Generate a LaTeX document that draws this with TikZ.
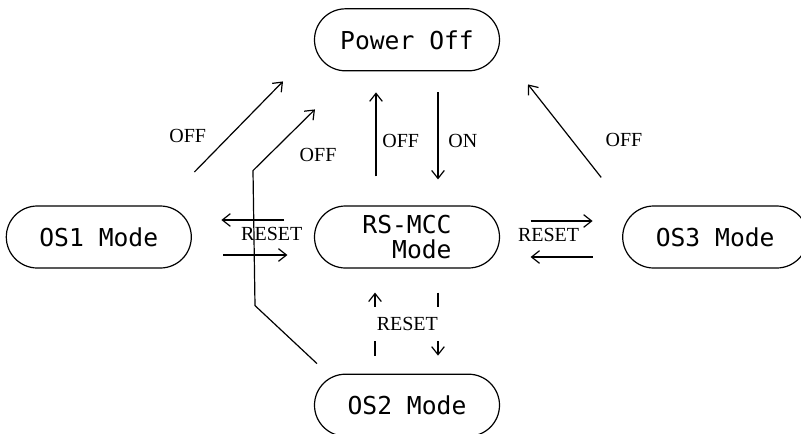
\documentclass[tikz,border=0pt]{standalone}
\usepackage{fontspec}
\setmainfont{Liberation Serif}
\newfontfamily\modefont{DejaVu Sans Mono}
\usepackage{tikz}
\usetikzlibrary{positioning}
\usetikzlibrary{shapes.misc}
\usetikzlibrary{arrows.meta}

\begin{document}
\begin{tikzpicture}[x=0.75pt, y=-0.75pt, line width=0.9pt,
    >={Straight Barb[length=6pt,width=9.5pt]},
    mode/.style={draw, rounded rectangle, minimum width=138.75pt, minimum height=46.5pt,
      inner sep=0pt, align=right, font=\modefont\fontsize{18.5}{19}\selectfont},
    lbl/.style={font=\fontsize{15}{16}\selectfont}]

    \useasboundingbox (0,0) rectangle (801,433);

    \node [mode] (rs) at (407,237) {RS-MCC\\Mode};
    \node [mode, above=100.5pt of rs] (off) {Power Off};
    \node [mode, left=91.5pt of rs] (os1) {OS1 Mode};
    \node [mode, right=91.5pt of rs] (os3) {OS3 Mode};
    \node [mode, below=78.75pt of rs] (os2) {OS2 Mode};

    % to power off
    \draw [->] ([shift={(2.5,-65)}]os1.east) -- ([shift={(-124,10)}]off.south)
      node [lbl, pos=0.4, left=14pt] {OFF};
    \draw [->] ([shift={(-90,-10)}]os2.north) -- ++(-62,-58) -- ++(-2,-135)
      -- ([shift={(-92,38)}]off.south) node [lbl, midway, right=8pt, yshift=-11pt] {OFF};
    \draw [->] ([shift={(-31,-29)}]rs.north) -- ([shift={(-31,21)}]off.south)
      node [lbl, midway, right=1pt, yshift=-5pt] {OFF};
    \draw [->] ([shift={(31,21)}]off.south) -- ([shift={(31,-26)}]rs.north)
      node [lbl, midway, right=4pt, yshift=-4pt] {ON};
    \draw [->] ([shift={(-114,-28)}]os3.north) -- ([shift={(121,13)}]off.south)
      node [lbl, midway, right=27pt, yshift=-7pt] {OFF};

    % reset
    \draw [->] ([shift={(-29.5,-17)}]rs.west) -- ([shift={(29.5,-17)}]os1.east)
      node [lbl, pos=0.2, below=2pt] {RESET};
    \draw [->] ([shift={(31.5,18)}]os1.east) -- ([shift={(-26.5,18)}]rs.west);
    \draw [->] ([shift={(30.5,-16)}]rs.east) -- ([shift={(-29.5,-16)}]os3.west)
      node [lbl, pos=0.29, below=2pt] {RESET};
    \draw [->] ([shift={(-29.5,20)}]os3.west) -- ([shift={(30.5,20)}]rs.east);
    \draw [->] ([shift={(-32,-18)}]os2.north) -- ([shift={(-32,24)}]rs.south);
    \draw [->] ([shift={(31,24)}]rs.south) -- ([shift={(31,-18)}]os2.north)
      node [lbl, midway, xshift=-23pt, fill=white, minimum width=50pt, minimum height=25pt] {RESET};
\end{tikzpicture}
\end{document}
